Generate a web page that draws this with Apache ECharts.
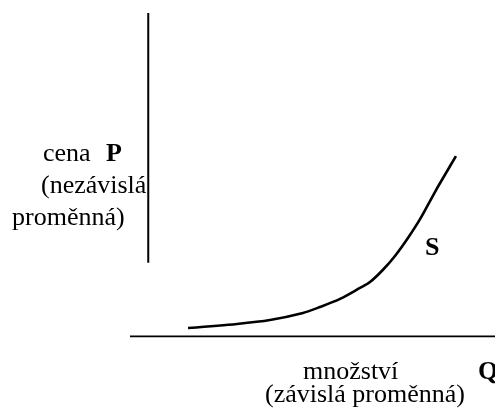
<!DOCTYPE html>
<html><head><meta charset="utf-8">
<script src="https://cdn.jsdelivr.net/npm/echarts@6/dist/echarts.min.js"></script>
<style>html,body{margin:0;padding:0;background:#fff}#c{width:495px;height:414px}</style>
</head><body><div id="c"></div>
<script>
// Supply curve S: quantity Q vs price P (abstract units)
const supplyQ = [2.18, 4.86, 6.67, 8.48, 9.41, 10.51, 11.60, 12.15, 12.85, 13.52, 14.23, 14.90, 15.77, 16.38, 16.86];
const supplyP = [0.47, 0.70, 0.92, 1.31, 1.64, 2.09, 2.70, 3.03, 3.70, 4.48, 5.48, 6.54, 8.15, 9.21, 10.04];
// Axis strokes (drawn as lines in data space)
const priceAxisQ = [0, 0];
const priceAxisP = [4.1, 18];
const quantityAxisQ = [-1, 19];
const quantityAxisP = [0, 0];
// Labels
const priceLabel = ['cena', 'P', '(nezávislá', 'proměnná)'];
const quantityLabel = ['množství', 'Q', '(závislá proměnná)'];
const curveLabel = 'S';

const zip = (a, b) => a.map((v, i) => [v, b[i]]);
const font = '"Liberation Serif", "Times New Roman", serif';
const chart = echarts.init(document.getElementById('c'), null, {renderer: 'canvas'});
// y is the vertical middle of the text line (baseline ≈ y + 8)
const txt = (text, x, y, align, bold) => ({
  type: 'text', x: x, y: y,
  style: {text: text, x: 0, y: 0, textAlign: align, align: align,
    textVerticalAlign: 'middle', verticalAlign: 'middle',
    font: (bold ? 'bold ' : '') + '26px ' + font, fill: '#000'}
});
chart.setOption({
  animation: false,
  backgroundColor: '#fff',
  grid: {left: 130, right: 0, top: 13, bottom: 77.5},
  xAxis: {type: 'value', min: -1, max: 19, show: false},
  yAxis: {type: 'value', min: 0, max: 18, show: false},
  series: [
    {type: 'line', data: zip(priceAxisQ, priceAxisP), symbol: 'none', lineStyle: {color: '#000', width: 2}},
    {type: 'line', data: zip(quantityAxisQ, quantityAxisP), symbol: 'none', lineStyle: {color: '#000', width: 2.2}},
    {type: 'line', data: zip(supplyQ, supplyP), symbol: 'none', smooth: 0.3, lineStyle: {color: '#000', width: 2.6}}
  ],
  graphic: [
    txt(priceLabel[0], 43, 154, 'left', false),
    txt(priceLabel[1], 106, 154, 'left', true),
    txt(priceLabel[2], 41, 186, 'left', false),
    txt(priceLabel[3], 12, 218, 'left', false),
    txt(curveLabel, 425, 248, 'left', true),
    txt(quantityLabel[0], 303, 372, 'left', false),
    txt(quantityLabel[1], 478, 372, 'left', true),
    txt(quantityLabel[2], 365, 395, 'center', false)
  ]
});
</script></body></html>
